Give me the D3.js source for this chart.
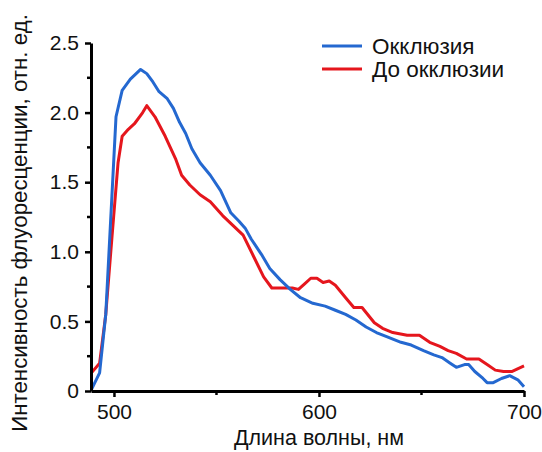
<!DOCTYPE html>
<html>
<head>
<meta charset="utf-8">
<script src="https://cdn.jsdelivr.net/npm/d3@7"></script>
<style>
  html, body { margin: 0; padding: 0; background: #fff; }
  svg text { font-family: "Liberation Sans", Arial, sans-serif; fill: #111; }
</style>
</head>
<body>
<svg id="chart" width="542" height="452"></svg>
<script>
// данные спектров (нм, отн. ед.)
const occlWl = [489, 493, 496, 499, 501, 504, 508, 513, 516, 519, 522, 526, 529, 532, 535, 538, 542, 547, 552, 557, 561, 564, 567, 572, 576, 581, 586, 591, 597, 603, 608, 613, 618, 623, 628, 633, 640, 645, 651, 656, 660, 664, 667, 671, 673, 676, 680, 682, 685, 689, 693, 697, 700];
const occlVal = [0.01, 0.13, 0.55, 1.4, 1.97, 2.16, 2.24, 2.31, 2.28, 2.22, 2.15, 2.10, 2.03, 1.93, 1.85, 1.74, 1.64, 1.55, 1.44, 1.28, 1.22, 1.17, 1.09, 0.98, 0.88, 0.80, 0.73, 0.67, 0.63, 0.61, 0.58, 0.55, 0.51, 0.46, 0.42, 0.39, 0.35, 0.33, 0.29, 0.26, 0.24, 0.20, 0.17, 0.19, 0.19, 0.14, 0.09, 0.06, 0.06, 0.09, 0.11, 0.08, 0.03];

const preWl = [489, 493, 496, 499, 502, 504, 507, 510, 514, 516, 520, 525, 530, 533, 537, 542, 547, 553, 558, 563, 568, 573, 577, 582, 587, 590, 593, 596, 599, 602, 605, 608, 613, 617, 621, 627, 631, 636, 643, 649, 654, 659, 663, 667, 672, 678, 682, 686, 690, 694, 700];
const preVal = [0.13, 0.20, 0.55, 1.1, 1.64, 1.83, 1.88, 1.92, 2.00, 2.05, 1.97, 1.83, 1.67, 1.55, 1.48, 1.41, 1.36, 1.26, 1.19, 1.12, 0.97, 0.82, 0.74, 0.74, 0.74, 0.73, 0.77, 0.81, 0.81, 0.78, 0.79, 0.76, 0.67, 0.60, 0.60, 0.49, 0.45, 0.42, 0.40, 0.40, 0.35, 0.32, 0.29, 0.27, 0.23, 0.23, 0.19, 0.15, 0.14, 0.14, 0.18];

const seriesNames = ["Окклюзия", "До окклюзии"];
const seriesColors = ["#2468d0", "#e5161d"];

const xTicks = [500, 600, 700];
const xMinor = [550, 650];
const yTicks = [0, 0.5, 1.0, 1.5, 2.0, 2.5];
const yTickLabels = ["0", "0.5", "1.0", "1.5", "2.0", "2.5"];
const yMinor = [0.25, 0.75, 1.25, 1.75, 2.25];

const svg = d3.select('#chart');

const x = d3.scaleLinear().domain([488.8, 700]).range([91, 524]);
const y = d3.scaleLinear().domain([0, 2.5]).range([391, 43]);

const series = [
    occlWl.map((w, i) => [w, occlVal[i]]),
    preWl.map((w, i) => [w, preVal[i]])
];

const line = d3.line()
    .x(d => x(d[0]))
    .y(d => y(d[1]));

// сначала красная, синяя поверх
svg.selectAll('path.spec')
    .data([series[1], series[0]])
    .enter()
    .append('path')
    .attr('class', 'spec')
    .attr('d', line)
    .attr('fill', 'none')
    .attr('stroke', (d, i) => i === 0 ? seriesColors[1] : seriesColors[0])
    .attr('stroke-width', 3)
    .attr('stroke-linejoin', 'round');

// оси
const xAxis = svg.append('g')
    .attr('transform', 'translate(0,391)')
    .call(d3.axisBottom(x).tickValues(xTicks).tickSize(6).tickPadding(7).tickSizeOuter(0));
xAxis.append('g')
    .selectAll('line')
    .data(xMinor)
    .enter()
    .append('line')
    .attr('x1', d => x(d)).attr('x2', d => x(d))
    .attr('y1', 0).attr('y2', 4)
    .attr('stroke', '#000').attr('stroke-width', 2.5);

const yAxis = svg.append('g')
    .attr('transform', 'translate(91,0)')
    .call(d3.axisLeft(y).tickValues(yTicks).tickFormat((d, i) => yTickLabels[i]).tickSize(6).tickPadding(5).tickSizeOuter(0));
yAxis.append('g')
    .selectAll('line')
    .data(yMinor)
    .enter()
    .append('line')
    .attr('y1', d => y(d)).attr('y2', d => y(d))
    .attr('x1', 0).attr('x2', -4)
    .attr('stroke', '#000').attr('stroke-width', 2.5);

[xAxis, yAxis].forEach(g => {
    g.select('.domain').attr('stroke', '#000').attr('stroke-width', 3);
    g.selectAll('.tick line').attr('stroke', '#000').attr('stroke-width', 2.5);
    g.selectAll('.tick text')
        .attr('font-size', 21)
        .style('font-family', '"Liberation Sans", Arial, sans-serif')
        .attr('fill', '#111');
});
yAxis.selectAll('.tick text').attr('dx', -1);

// подписи осей
svg.append('text')
    .attr('x', 319)
    .attr('y', 445)
    .attr('text-anchor', 'middle')
    .attr('font-size', 21.5)
    .text('Длина волны, нм');

svg.append('text')
    .attr('transform', 'translate(27,223) rotate(-90)')
    .attr('text-anchor', 'middle')
    .attr('font-size', 22.3)
    .text('Интенсивность флуоресценции, отн. ед.');

// легенда
const legend = svg.append('g').attr('transform', 'translate(322,46)');
const items = legend.selectAll('g.item')
    .data(seriesNames)
    .enter()
    .append('g')
    .attr('class', 'item')
    .attr('transform', (d, i) => `translate(0,${i * 23})`);
items.append('line')
    .attr('x1', 0).attr('x2', 40)
    .attr('y1', 0).attr('y2', 0)
    .attr('stroke', (d, i) => seriesColors[i])
    .attr('stroke-width', 3);
items.append('text')
    .attr('x', 50)
    .attr('y', 8)
    .attr('font-size', 22.5)
    .text(d => d);
</script>
</body>
</html>
